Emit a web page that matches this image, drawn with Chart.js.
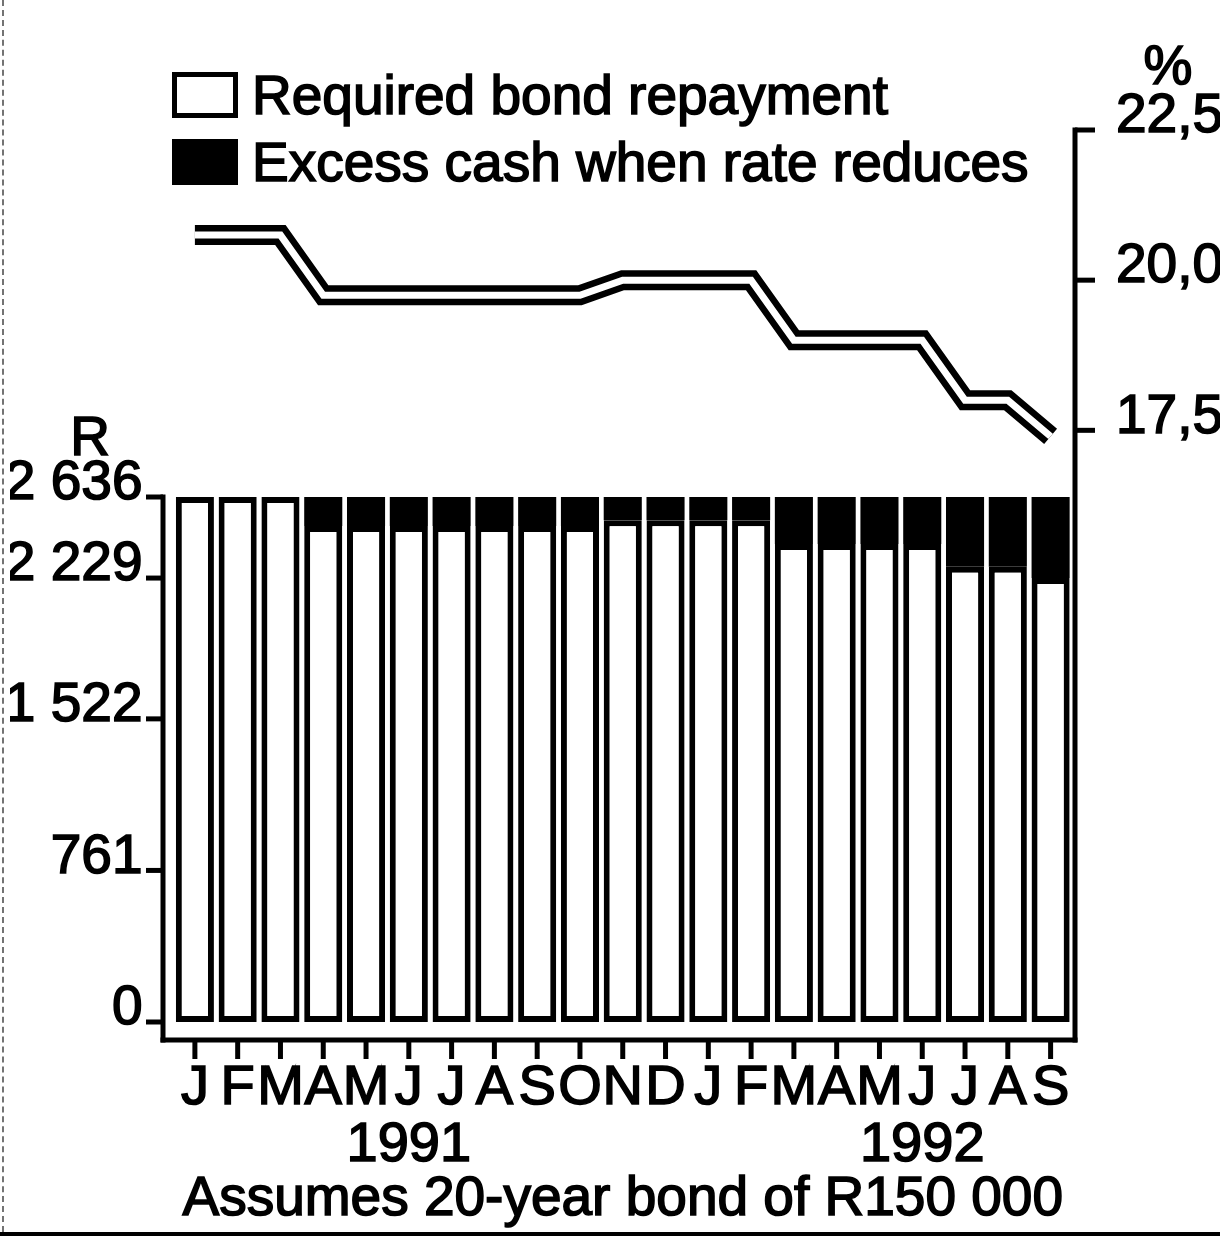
<!DOCTYPE html>
<html>
<head>
<meta charset="utf-8">
<script src="https://cdn.jsdelivr.net/npm/chart.js@4/dist/chart.umd.min.js"></script>
<style>
  html, body { margin: 0; padding: 0; background: #fff; }
  #wrap { position: relative; width: 1220px; height: 1252px; overflow: hidden; }
  canvas { display: block; }
  #rule { position: absolute; left: 0; top: 1232px; width: 1220px; height: 4px; background: #000; }
  #edge { position: absolute; left: 2px; top: 0; height: 1232px; border-left: 2px dashed #000; opacity: .55; }
</style>
</head>
<body>
<div id="wrap">
  <canvas id="c" width="1220" height="1252"></canvas>
  <div id="rule"></div>
  <div id="edge"></div>
</div>
<script>
// Months January 1991 – September 1992
const months = ['J','F','M','A','M','J','J','A','S','O','N','D','J','F','M','A','M','J','J','A','S'];
const years = ['1991', '1992'];
const yearAt = [5, 17];            // month index under which each year is written

// Rand per month
const required = [2636, 2636, 2636, 2490, 2490, 2490, 2490, 2490, 2490, 2490,
                  2519, 2519, 2519, 2519, 2400, 2400, 2400, 2400, 2286, 2286, 2229];
const excess   = [0, 0, 0, 146, 146, 146, 146, 146, 146, 146,
                  117, 117, 117, 117, 236, 236, 236, 236, 350, 350, 407];

// Interest rate, %
const rate = [20.75, 20.75, 20.75, 19.75, 19.75, 19.75, 19.75, 19.75, 19.75, 19.75,
              20.0, 20.0, 20.0, 20.0, 19.0, 19.0, 19.0, 19.0, 18.0, 18.0, 17.4];

const randTicks = [0, 761, 1522, 2229, 2636];
const randTickLabels = ['0', '761', '1 522', '2 229', '2 636'];
const rateTicks = [17.5, 20, 22.5];
const rateTickLabels = ['17,5', '20,0', '22,5'];

const legendLabels = ['Required bond repayment', 'Excess cash when rate reduces'];
const footnote = 'Assumes 20-year bond of R150 000';

const FONT = "'Liberation Sans', Arial, Helvetica, sans-serif";
const INK = '#000';
const INK_STROKE = 1.6;   // heavier newsprint ink on the lettering

const labels = months.map((m, i) => {
  const k = yearAt.indexOf(i);
  return k >= 0 ? [m, years[k]] : m;
});

function inkText(ctx, text, x, y) {
  ctx.fillText(text, x, y);
  ctx.lineWidth = INK_STROKE;
  ctx.strokeStyle = INK;
  ctx.strokeText(text, x, y);
}

// Axis frame, tick marks, unit captions, footnote and the key
const framePlugin = {
  id: 'frame',
  afterDraw(chart) {
    const { ctx, chartArea: ca, scales } = chart;
    const x = scales.x, y = scales.y, y2 = scales.y2;
    const lw = 5;
    const xL = ca.left - 10.5;
    const xR = ca.right + 3;
    const yB = ca.bottom;
    ctx.save();
    ctx.strokeStyle = INK;
    ctx.lineWidth = lw;
    ctx.lineCap = 'butt';

    // left (rand) axis
    const yTop = y.getPixelForValue(randTicks[randTicks.length - 1]);
    ctx.beginPath();
    ctx.moveTo(xL, yTop - lw / 2);
    ctx.lineTo(xL, yB + lw / 2);
    ctx.stroke();
    y.ticks.forEach(t => {
      const py = y.getPixelForValue(t.value);
      ctx.beginPath();
      ctx.moveTo(xL - 17, py);
      ctx.lineTo(xL, py);
      ctx.stroke();
    });

    // base line with month ticks
    ctx.beginPath();
    ctx.moveTo(xL - lw / 2, yB);
    ctx.lineTo(xR + lw / 2, yB);
    ctx.stroke();
    labels.forEach((_, i) => {
      const px = x.getPixelForValue(i);
      ctx.beginPath();
      ctx.moveTo(px, yB);
      ctx.lineTo(px, yB + 19);
      ctx.stroke();
    });

    // right (rate) axis
    const yTop2 = y2.getPixelForValue(rateTicks[rateTicks.length - 1]);
    ctx.beginPath();
    ctx.moveTo(xR, yTop2 - lw / 2);
    ctx.lineTo(xR, yB + lw / 2);
    ctx.stroke();
    y2.ticks.forEach(t => {
      const py = y2.getPixelForValue(t.value);
      ctx.beginPath();
      ctx.moveTo(xR, py);
      ctx.lineTo(xR + 20, py);
      ctx.stroke();
    });

    // unit captions
    ctx.fillStyle = INK;
    ctx.font = '55px ' + FONT;
    ctx.textAlign = 'center';
    ctx.textBaseline = 'alphabetic';
    inkText(ctx, 'R', 90, 455);
    inkText(ctx, '%', 1168, 84);

    // footnote under the month axis
    inkText(ctx, footnote, (x.left + x.right) / 2, 1215);

    // key
    const ds = chart.data.datasets;
    const boxX = 172, boxW = 66, boxH = 46;
    const rows = [72, 139];
    ctx.textAlign = 'left';
    [0, 1].forEach((d, r) => {
      const by = rows[r];
      ctx.fillStyle = ds[d].backgroundColor;
      ctx.fillRect(boxX, by, boxW, boxH);
      ctx.lineWidth = 5;
      ctx.strokeStyle = INK;
      ctx.strokeRect(boxX + 2.5, by + 2.5, boxW - 5, boxH - 5);
      ctx.fillStyle = INK;
      inkText(ctx, ds[d].label, 252, by + 42);
    });
    ctx.restore();
  }
};

const tickFont = { family: FONT, size: 55 };

new Chart(document.getElementById('c'), {
  type: 'bar',
  data: {
    labels: labels,
    datasets: [
      {
        label: legendLabels[0],
        data: required,
        backgroundColor: '#fff',
        borderColor: INK,
        borderWidth: 6,
        borderSkipped: false,
        stack: 'repay',
        yAxisID: 'y',
        order: 3
      },
      {
        label: legendLabels[1],
        data: excess,
        backgroundColor: INK,
        borderColor: INK,
        borderWidth: 0,
        stack: 'repay',
        yAxisID: 'y',
        order: 3
      },
      {
        type: 'line',
        label: 'Rate',
        data: rate,
        yAxisID: 'y2',
        borderColor: INK,
        borderWidth: 20,
        pointRadius: 0,
        tension: 0,
        fill: false,
        borderJoinStyle: 'miter',
        borderCapStyle: 'butt',
        order: 2
      },
      {
        type: 'line',
        label: 'Rate core',
        data: rate,
        yAxisID: 'y2',
        borderColor: '#fff',
        borderWidth: 7,
        pointRadius: 0,
        tension: 0,
        fill: false,
        borderJoinStyle: 'miter',
        borderCapStyle: 'butt',
        order: 1
      }
    ]
  },
  options: {
    responsive: false,
    animation: false,
    devicePixelRatio: 1,
    layout: { padding: { left: 10, right: 0, top: 130, bottom: 0 } },
    plugins: {
      legend: { display: false },
      tooltip: { enabled: false }
    },
    datasets: {
      bar: { categoryPercentage: 1.0, barPercentage: 0.89 }
    },
    scales: {
      x: {
        stacked: true,
        offset: true,
        grid: { display: false },
        border: { display: false },
        ticks: {
          color: INK,
          font: { family: FONT, size: 56, lineHeight: 1.02 },
          padding: 12,
          maxRotation: 0,
          minRotation: 0,
          autoSkip: false,
          textStrokeColor: INK,
          textStrokeWidth: INK_STROKE
        },
        afterFit: s => { s.height = 212; }
      },
      y: {
        stacked: true,
        position: 'left',
        min: -90.4,
        max: 4478.7,
        grid: { display: false },
        border: { display: false },
        afterBuildTicks: s => { s.ticks = randTicks.map(v => ({ value: v })); },
        ticks: {
          color: INK,
          font: tickFont,
          padding: 23,
          labelOffset: -13,
          textStrokeColor: INK,
          textStrokeWidth: INK_STROKE,
          callback: v => randTickLabels[randTicks.indexOf(v)]
        },
        afterFit: s => { s.width = 163.5; }
      },
      y2: {
        position: 'right',
        min: 7.35,
        max: 22.5,
        grid: { display: false },
        border: { display: false },
        afterBuildTicks: s => { s.ticks = rateTicks.map(v => ({ value: v })); },
        ticks: {
          color: INK,
          font: tickFont,
          padding: 36,
          labelOffset: -13,
          textStrokeColor: INK,
          textStrokeWidth: INK_STROKE,
          callback: v => rateTickLabels[rateTicks.indexOf(v)]
        },
        afterFit: s => { s.width = 148; }
      }
    }
  },
  plugins: [framePlugin]
});
</script>
</body>
</html>
